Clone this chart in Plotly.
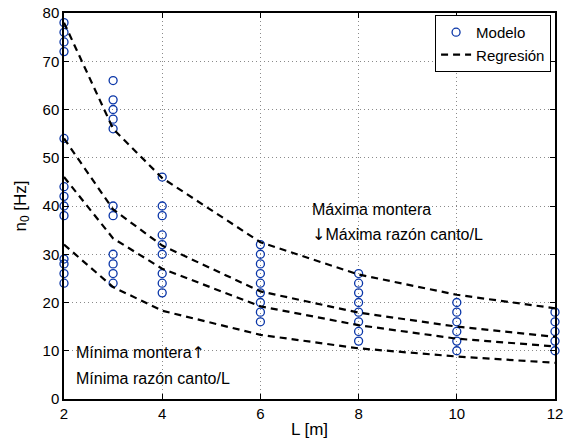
import plotly.graph_objects as go

# Model points (L [m], n0 [Hz])
L_2 = [78, 76, 74, 72, 54, 44, 42, 40, 38, 29, 28, 26, 24]
L_3 = [66, 62, 60, 58, 56, 40, 38, 30, 28, 26, 24]
L_4 = [46, 40, 38, 34, 32, 30, 26, 24, 22]
L_6 = [32, 30, 28, 26, 24, 22, 20, 18, 16]
L_8 = [26, 24, 22, 20, 18, 16, 14, 12]
L_10 = [20, 18, 16, 14, 12, 10]
L_12 = [18, 16, 14, 12, 10]
model_groups = {2: L_2, 3: L_3, 4: L_4, 6: L_6, 8: L_8, 10: L_10, 12: L_12}

# Regression curves
L_fit = [2, 3, 4, 6, 8, 10, 12]
reg1 = [78, 56, 45.8, 32.5, 25.8, 21.6, 18.8]
reg2 = [54, 39.3, 31.8, 22.3, 17.9, 15.0, 12.9]
reg3 = [46, 33.3, 27.0, 19.2, 15.3, 12.5, 10.9]
reg4 = [32, 23.2, 18.3, 13.3, 10.5, 8.8, 7.5]

xs, ys = [], []
for L, vals in model_groups.items():
    xs += [L] * len(vals)
    ys += vals

FONT = "Liberation Sans, Arial, Helvetica, sans-serif"
ARROW = "<span style='font-family:DejaVu Sans'>{}</span>"
fig = go.Figure()
fig.add_trace(go.Scatter(
    x=xs, y=ys, mode="markers", name="Modelo", cliponaxis=False,
    marker=dict(symbol="circle-open", size=8, color="#0a36a8", line=dict(width=1.3, color="#0a36a8")),
))
for i, reg in enumerate([reg1, reg2, reg3, reg4]):
    fig.add_trace(go.Scatter(
        x=L_fit, y=reg, mode="lines", name="Regresión", showlegend=(i == 0),
        line=dict(color="black", width=2.2, dash="7px,5px"),
    ))

annots = [
    dict(x=7.0, y=39.2, text="Máxima montera"),
    dict(x=7.0, y=34.0, text=ARROW.format("↓") + "Máxima razón canto/L"),
    dict(x=2.2, y=9.7, text="Mínima montera" + ARROW.format("↑")),
    dict(x=2.2, y=4.3, text="Mínima razón canto/L"),
]
for a in annots:
    fig.add_annotation(x=a["x"], y=a["y"], text=a["text"], showarrow=False,
                       xanchor="left", yanchor="middle",
                       font=dict(family=FONT, size=16, color="black"))

axis_common = dict(
    showline=True, linecolor="black", linewidth=1.5, mirror="ticks",
    ticks="inside", ticklen=5, tickcolor="black", automargin=False,
    showgrid=True, gridcolor="#8a8a8a", griddash="1px,3px", gridwidth=1,
    zeroline=False, tickfont=dict(family=FONT, size=15, color="black"),
)
fig.update_xaxes(range=[2, 12], tickvals=[2, 4, 6, 8, 10, 12],
                 title=dict(text="L [m]", font=dict(family=FONT, size=17, color="black"), standoff=2),
                 **axis_common)
fig.update_yaxes(range=[0, 80], tickvals=list(range(0, 81, 10)),
                 title=dict(text="n<sub>0</sub> [Hz]", font=dict(family=FONT, size=17, color="black"), standoff=12),
                 **axis_common)

fig.update_layout(
    width=565, height=443,
    margin=dict(l=64, r=10, t=13, b=44),
    plot_bgcolor="white", paper_bgcolor="white",
    font=dict(family=FONT, size=16, color="black"),
    legend=dict(x=0.992, y=0.995, xanchor="right", yanchor="top",
                bgcolor="white", bordercolor="black", borderwidth=1,
                font=dict(family=FONT, size=15, color="black"),
                tracegroupgap=0, itemwidth=30),
)

fig.write_html("out.html")
